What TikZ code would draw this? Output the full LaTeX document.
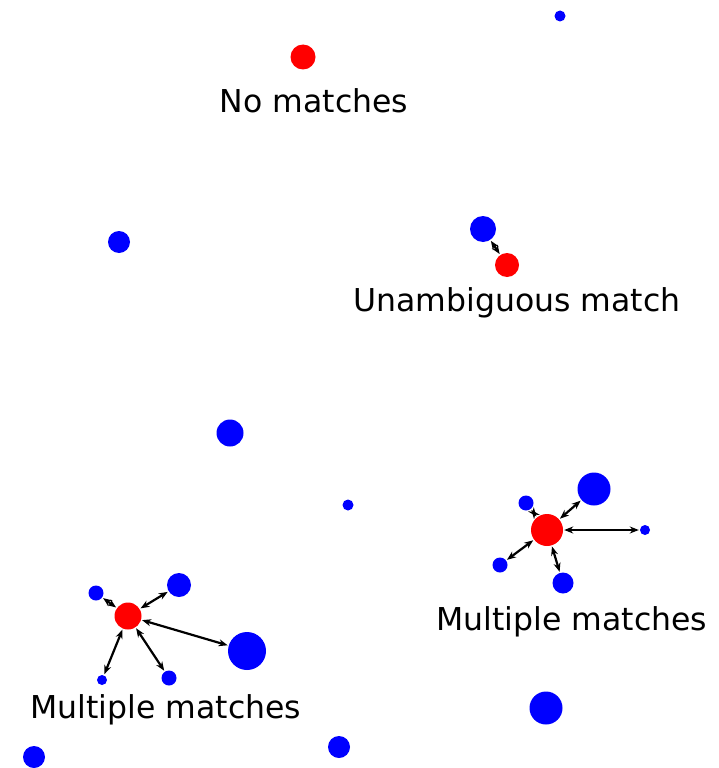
\documentclass[tikz,border=0pt]{standalone}
\usepackage{fontspec}
\setmainfont{DejaVu Sans}
\usetikzlibrary{arrows.meta}
\begin{document}
\begin{tikzpicture}[x=1pt,y=-1pt,
  dot/.style={circle,inner sep=0pt,minimum size=#1},
  bluedot/.style={dot=#1,fill=blue},
  reddot/.style={dot=#1,fill=red},
  link/.style={black,line width=2.2pt,{Stealth[length=9pt,width=7pt]}-{Stealth[length=9pt,width=7pt]},shorten <=1pt,shorten >=1pt},
  lbl/.style={font=\fontsize{31.5}{36}\selectfont,inner sep=0pt}]
\useasboundingbox (0,0) rectangle (718,768);

% isolated points
\node[reddot=25] (nm) at (303,57) {};
\node[bluedot=11] (b1) at (560,16) {};
\node[bluedot=22] (b2) at (119,242) {};
\node[bluedot=27] (b3) at (230,433) {};
\node[bluedot=11] (b4) at (348,505) {};
\node[bluedot=33] (b5) at (546,708) {};
\node[bluedot=22] (b6) at (339,747) {};
\node[bluedot=22] (b7) at (34,757) {};

% unambiguous pair
\node[bluedot=26] (ua) at (483,229) {};
\node[reddot=24] (ur) at (507,265) {};
\draw[link] (ur) -- (ua);

% right cluster
\node[reddot=32] (rr) at (547,530) {};
\node[bluedot=33] (ra) at (594,489) {};
\node[bluedot=15] (rb) at (526,503) {};
\node[bluedot=10] (rc) at (645,530) {};
\node[bluedot=15] (rd) at (500,565) {};
\node[bluedot=21] (re) at (563,583) {};
\foreach \t in {ra,rb,rc,rd,re} \draw[link] (rr) -- (\t);

% left cluster
\node[reddot=27] (lr) at (128,616) {};
\node[bluedot=15] (la) at (96,593) {};
\node[bluedot=24] (lb) at (179,585) {};
\node[bluedot=38] (lc) at (247,651) {};
\node[bluedot=10] (ld) at (102,680) {};
\node[bluedot=15] (le) at (169,678) {};
\foreach \t in {la,lb,lc,ld,le} \draw[link] (lr) -- (\t);

% labels
\node[lbl] (t1) at (314,101) {No matches};
\node[lbl] (t2) at (517,303) {Unambiguous match};
\node[lbl] (t3) at (572,622) {Multiple matches};
\node[lbl] (t4) at (166,710) {Multiple matches};
\end{tikzpicture}
\end{document}
